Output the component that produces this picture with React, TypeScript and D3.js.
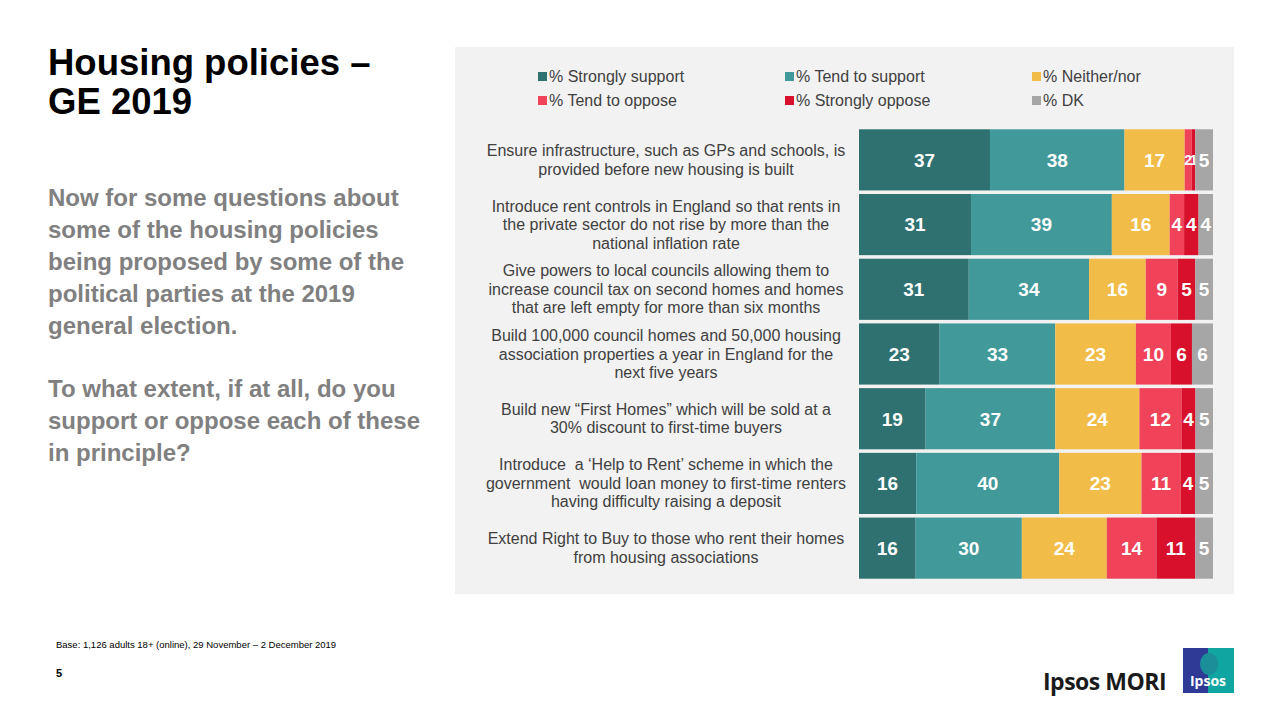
import React from "react";
import * as d3 from "d3";

const categories = [
  ["Ensure infrastructure, such as GPs and schools, is", "provided before new housing is built"],
  ["Introduce rent controls in England so that rents in", "the private sector do not rise by more than the", "national inflation rate"],
  ["Give powers to local councils allowing them to", "increase council tax on second homes and homes", "that are left empty for more than six months"],
  ["Build 100,000 council homes and 50,000 housing", "association properties a year in England for the", "next five years"],
  ["Build new \u201cFirst Homes\u201d which will be sold at a", "30% discount to first-time buyers"],
  ["Introduce  a \u2018Help to Rent\u2019 scheme in which the", "government  would loan money to first-time renters", "having difficulty raising a deposit"],
  ["Extend Right to Buy to those who rent their homes", "from housing associations"],
];

const seriesNames = ["% Strongly support", "% Tend to support", "% Neither/nor", "% Tend to oppose", "% Strongly oppose", "% DK"];
const seriesColors = ["#2f7171", "#41999a", "#f1bc48", "#f0435a", "#d9102b", "#a6a6a6"];

const stronglySupport = [37, 31, 31, 23, 19, 16, 16];
const tendSupport = [38, 39, 34, 33, 37, 40, 30];
const neither = [17, 16, 16, 23, 24, 23, 24];
const tendOppose = [2, 4, 9, 10, 12, 11, 14];
const stronglyOppose = [1, 4, 5, 6, 4, 4, 11];
const dontKnow = [5, 4, 5, 6, 5, 5, 5];

const seriesValues = [stronglySupport, tendSupport, neither, tendOppose, stronglyOppose, dontKnow];

const titleLines = ["Housing policies \u2013", "GE 2019"];
const subtitleLines1 = ["Now for some questions about", "some of the housing policies", "being proposed by some of the", "political parties at the 2019", "general election."];
const subtitleLines2 = ["To what extent, if at all, do you", "support or oppose each of these", "in principle?"];
const footnote = "Base: 1,126 adults 18+ (online), 29 November \u2013 2 December 2019";

export default function App() {
  const rows = categories.map((_, i) => {
    const o: any = { idx: i };
    seriesNames.forEach((s, j) => (o[s] = seriesValues[j][i]));
    return o;
  });
  const stack = d3.stack<any>().keys(seriesNames).offset(d3.stackOffsetExpand);
  const stacked = stack(rows);

  const x = d3.scaleLinear().domain([0, 1]).range([859, 1213]);
  const y = d3.scaleBand<number>().domain(categories.map((_, i) => i)).range([128, 580]).paddingInner(0.055).paddingOuter(0.02);

  const font = "Liberation Sans, Arial, sans-serif";

  return (
    <svg width={1280} height={720} style={{ position: "absolute", left: 0, top: 0, fontFamily: font }}>
      <rect x={0} y={0} width={1280} height={720} fill="#ffffff" />
      {/* Title */}
      {titleLines.map((t, i) => (
        <text key={i} x={48} y={75 + i * 39} fontSize={36.5} fontWeight="bold" fill="#000">{t}</text>
      ))}
      {subtitleLines1.map((t, i) => (
        <text key={"a" + i} x={48} y={206 + i * 32} fontSize={24} fontWeight="bold" fill="#808080">{t}</text>
      ))}
      {subtitleLines2.map((t, i) => (
        <text key={"b" + i} x={48} y={397 + i * 32} fontSize={24} fontWeight="bold" fill="#808080">{t}</text>
      ))}

      {/* Panel */}
      <rect x={455} y={47} width={779} height={547} fill="#f2f2f2" />

      {/* Legend */}
      {seriesNames.map((s, i) => {
        const col = i % 3;
        const row = Math.floor(i / 3);
        const lx = 538 + col * 247;
        const ly = 76 + row * 24;
        return (
          <g key={s}>
            <rect x={lx} y={ly - 4} width={9} height={9} fill={seriesColors[i]} />
            <text x={lx + 11} y={ly + 6} fontSize={16} fill="#404040">{s}</text>
          </g>
        );
      })}

      {/* Bars */}
      {stacked.map((layer, j) => (
        <g key={layer.key}>
          {layer.map((d, i) => {
            const x0 = x(d[0]);
            const x1 = x(d[1]);
            const yy = y(i)!;
            const v = seriesValues[j][i];
            const fs = v < 3 ? 14 : 19;
            return (
              <g key={i}>
                <rect x={x0} y={yy} width={x1 - x0} height={y.bandwidth()} fill={seriesColors[j]} />
                <text x={(x0 + x1) / 2} y={yy + y.bandwidth() / 2 + fs * 0.36} textAnchor="middle" fontSize={fs} fontWeight="bold" fill="#fff">
                  {v}
                </text>
              </g>
            );
          })}
        </g>
      ))}

      {/* Category labels */}
      {categories.map((lines, i) => {
        const cy = y(i)! + y.bandwidth() / 2;
        const lh = 18.5;
        const start = cy - ((lines.length - 1) * lh) / 2;
        return (
          <g key={i}>
            {lines.map((l, k) => (
              <text key={k} x={666} y={start + k * lh + 5.5} textAnchor="middle" fontSize={16} fill="#404040" style={{ whiteSpace: "pre" }}>
                {l}
              </text>
            ))}
          </g>
        );
      })}

      {/* Footer */}
      <text x={56} y={648} fontSize={9.5} fill="#000">{footnote}</text>
      <text x={56} y={677} fontSize={11} fontWeight="bold" fill="#000">5</text>

      {/* Logo */}
      <text x={1043} y={690} fontSize={23} fontWeight="bold" fill="#1a1a1a" fontFamily="Open Sans, Liberation Sans, sans-serif" letterSpacing={-0.5}>Ipsos MORI</text>
      <rect x={1183} y={648} width={25} height={45} fill="#2e3a96" />
      <rect x={1208} y={648} width={26} height={45} fill="#10a5a0" />
      <ellipse cx={1209} cy={664} rx={9} ry={11} fill="#1a8f99" />
      <text x={1208} y={686} textAnchor="middle" fontSize={14} fontWeight="bold" fill="#fff" fontFamily="Open Sans, sans-serif">Ipsos</text>
    </svg>
  );
}
